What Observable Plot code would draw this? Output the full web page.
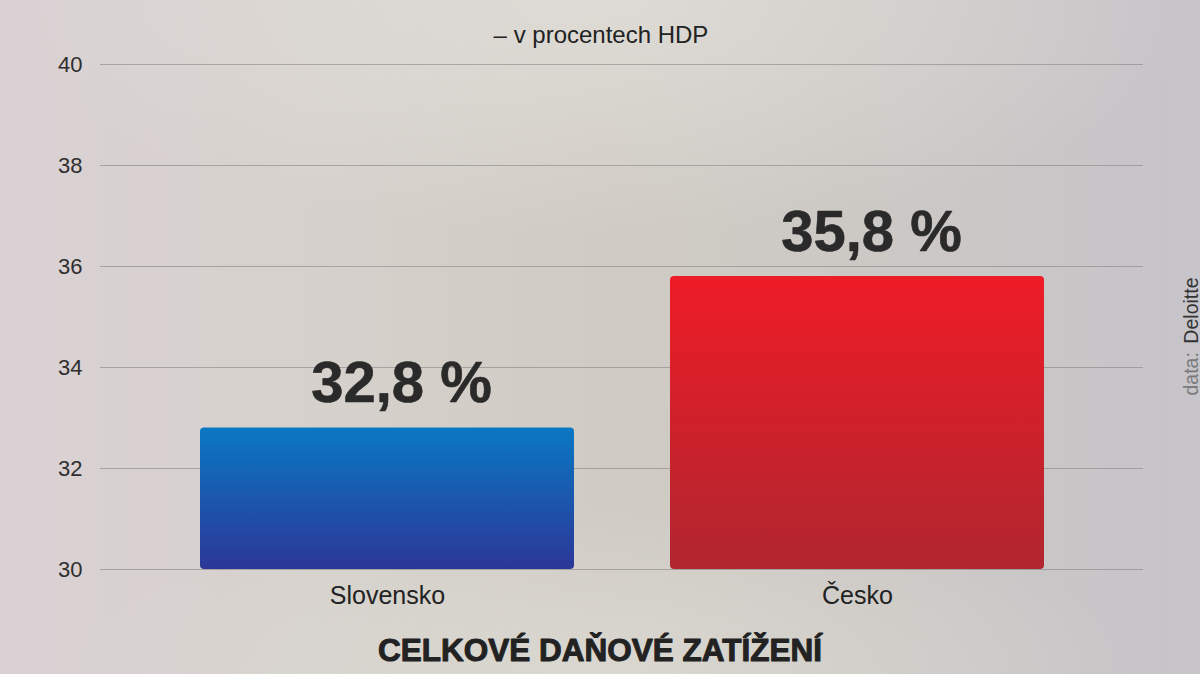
<!DOCTYPE html>
<html>
<head>
<meta charset="utf-8">
<script src="https://cdn.jsdelivr.net/npm/d3@7"></script>
<script src="https://cdn.jsdelivr.net/npm/@observablehq/plot@0.6"></script>
<style>
  html, body { margin: 0; padding: 0; }
  body {
    width: 1200px; height: 674px; overflow: hidden; position: relative;
    background:
      radial-gradient(ellipse 50% 35% at 50% 0%, rgba(232,230,226,0.6), rgba(232,230,226,0) 100%),
      radial-gradient(ellipse 45% 25% at 50% 100%, rgba(222,220,214,0.7), rgba(222,220,214,0) 100%),
      linear-gradient(90deg, #dad1d4 0%, #d6d1cc 25%, #d0ccc4 50%, #cbc8c5 75%, #c7c4ca 100%);
  }
  #chart { position: absolute; left: 0; top: 0; }
</style>
</head>
<body>
<div id="chart"></div>
<script>
// ---- data ----
const countries = ["Slovensko", "Česko"];
const values = [32.8, 35.8];
const yTicks = [30, 32, 34, 36, 38, 40];
const subtitle = "– v procentech HDP";
const title = "CELKOVÉ DAŇOVÉ ZATÍŽENÍ";
const sourceLabel = "data: ";
const sourceName = "Deloitte";

const gradientIds = ["gradSK", "gradCZ"];
const data = countries.map((c, i) => ({country: c, value: values[i], grad: `url(#${gradientIds[i]})`}));
const fmt = v => v.toFixed(1).replace(".", ",") + " %";

const font = "'Liberation Sans', Arial, Helvetica, sans-serif";

const plot = Plot.plot({
  width: 1200,
  height: 674,
  marginTop: 64,
  marginBottom: 105,
  marginLeft: 100,
  marginRight: 57,
  style: {background: "none", fontFamily: font, overflow: "visible"},
  x: {domain: countries, paddingInner: 0.2043, paddingOuter: 0.2117, label: null},
  y: {domain: [30, 40], label: null},
  color: {type: "identity"},
  marks: [
    Plot.gridY(yTicks, {stroke: "#807d7d", strokeOpacity: 0.55, strokeWidth: 1}),
    Plot.barY(data, {x: "country", y1: 30, y2: "value", fill: "grad", rx: 4, ry: 4,
      style: "filter: drop-shadow(0px 1px 3px rgba(0,0,0,0.28))"}),
    Plot.axisY(yTicks, {tickSize: 0, tickPadding: 18, fontSize: 22, fill: "#2f2f2f", label: null, tickFormat: d => String(d)}),
    Plot.axisX({tickSize: 0, tickPadding: 17, fontSize: 25, fill: "#222", label: null}),
    Plot.text(data, {x: "country", y: "value", text: d => fmt(d.value), lineAnchor: "bottom", dx: 14, dy: -26,
      fontSize: 58, fontWeight: "bold", fill: "#2a2a2a", stroke: "#2a2a2a", strokeWidth: 0.6, letterSpacing: -1}),
    Plot.text([subtitle], {frameAnchor: "top", lineAnchor: "bottom", dx: -21, dy: -22, fontSize: 24, fill: "#222", text: d => d}),
    Plot.text([title], {frameAnchor: "bottom", lineAnchor: "bottom", dx: -22, dy: 91, fontSize: 31.5, fontWeight: "bold",
      fill: "#222", stroke: "#222", strokeWidth: 1, text: d => d}),
    Plot.text([sourceLabel], {frameAnchor: "right", rotate: -90, textAnchor: "start", lineAnchor: "bottom",
      dx: 54, dy: 78.5, fontSize: 19.5, fill: "#7a7a7a", text: d => d}),
    Plot.text([sourceName], {frameAnchor: "right", rotate: -90, textAnchor: "end", lineAnchor: "bottom",
      dx: 54, dy: -39.5, fontSize: 19.5, fill: "#333", text: d => d})
  ]
});

// gradient definitions for the bar fills
const defs = d3.select(plot).insert("defs", ":first-child");
const gradStops = [
  [["0%", "#0a78c3"], ["100%", "#2c3798"]],
  [["0%", "#ee1c27"], ["100%", "#b0262f"]]
];
gradientIds.forEach((id, i) => {
  const g = defs.append("linearGradient").attr("id", id).attr("x1", 0).attr("y1", 0).attr("x2", 0).attr("y2", 1);
  gradStops[i].forEach(([o, c]) => g.append("stop").attr("offset", o).attr("stop-color", c));
});

document.getElementById("chart").appendChild(plot);
</script>
</body>
</html>
